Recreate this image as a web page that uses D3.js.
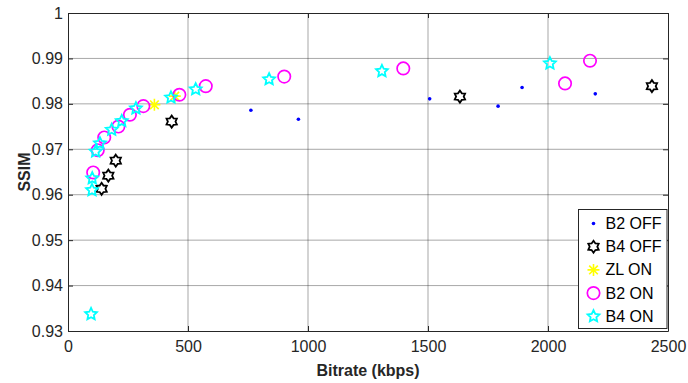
<!DOCTYPE html>
<html>
<head>
<meta charset="utf-8">
<script src="https://cdn.jsdelivr.net/npm/d3@7"></script>
<style>
  body { margin: 0; background: #fff; }
  svg { font-family: "Liberation Sans", Arial, sans-serif; }
</style>
</head>
<body>
<div id="chart"></div>
<script>
// bitrate (kbps) / SSIM pairs
const b2Off = [[762, 0.9786], [960, 0.9766], [1507, 0.9811], [1792, 0.9795], [1892, 0.9836], [2197, 0.9822]];
const b4Off = [[140, 0.9613], [168, 0.9642], [199, 0.9675], [432, 0.9761], [1633, 0.9816], [2433, 0.9839]];
const zlOn = [[360, 0.9798], [445, 0.9817]];
const b2On = [[105, 0.9649], [124, 0.9698], [151, 0.9726], [210, 0.9750], [258, 0.9776], [314, 0.9795],
  [464, 0.9820], [574, 0.9839], [901, 0.9860], [1397, 0.9878], [2071, 0.9845], [2175, 0.9895]];
const b4On = [[96, 0.9337], [100, 0.9610], [101, 0.9636], [115, 0.9695], [133, 0.9713], [182, 0.9743],
  [224, 0.9762], [283, 0.9790], [429, 0.9814], [532, 0.9832], [838, 0.9854], [1308, 0.9872], [2008, 0.9889]];

const xTicks = [0, 500, 1000, 1500, 2000, 2500];
const yTicks = [0.93, 0.94, 0.95, 0.96, 0.97, 0.98, 0.99, 1];

const width = 688, height = 383;
const margin = { top: 13, right: 20, bottom: 52, left: 68 };
const innerW = width - margin.left - margin.right;
const innerH = height - margin.top - margin.bottom;

const svg = d3.select('#chart').append('svg')
  .attr('width', width)
  .attr('height', height);

const g = svg.append('g').attr('transform', `translate(${margin.left}, ${margin.top})`);

const x = d3.scaleLinear().domain([0, 2500]).range([0, innerW]);
const y = d3.scaleLinear().domain([0.93, 1]).range([innerH, 0]);

// grid
g.append('g').selectAll('line').data(xTicks.slice(1, -1)).enter().append('line')
  .attr('x1', d => x(d)).attr('x2', d => x(d)).attr('y1', 0).attr('y2', innerH)
  .attr('stroke', '#262626').attr('stroke-opacity', 0.4).attr('stroke-width', 1);
g.append('g').selectAll('line').data(yTicks.slice(1, -1)).enter().append('line')
  .attr('y1', d => y(d)).attr('y2', d => y(d)).attr('x1', 0).attr('x2', innerW)
  .attr('stroke', '#262626').attr('stroke-opacity', 0.4).attr('stroke-width', 1);

// axes (ticks inward, box on)
const axisColor = '#262626';
function styleAxis(sel) {
  sel.selectAll('path').attr('stroke', axisColor);
  sel.selectAll('line').attr('stroke', axisColor);
  sel.selectAll('text').attr('fill', '#262626').style('font-size', '16px');
}
g.append('g').attr('transform', `translate(0, ${innerH})`)
  .call(d3.axisBottom(x).tickValues(xTicks).tickFormat(d3.format('d')).tickSize(-5).tickSizeOuter(0).tickPadding(10))
  .call(styleAxis);
g.append('g')
  .call(d3.axisLeft(y).tickValues(yTicks).tickFormat(d => d === 1 ? '1' : d3.format('.2f')(d)).tickSize(-5).tickSizeOuter(0).tickPadding(5))
  .call(styleAxis);
g.append('g')
  .call(d3.axisTop(x).tickValues(xTicks).tickSize(-5).tickSizeOuter(0).tickFormat(''))
  .call(styleAxis);
g.append('g').attr('transform', `translate(${innerW}, 0)`)
  .call(d3.axisRight(y).tickValues(yTicks).tickSize(-5).tickSizeOuter(0).tickFormat(''))
  .call(styleAxis);

// axis titles
svg.append('text')
  .attr('x', margin.left + innerW / 2).attr('y', 376)
  .attr('text-anchor', 'middle').style('font-size', '16px').style('font-weight', 'bold')
  .attr('fill', '#262626').text('Bitrate (kbps)');
svg.append('text')
  .attr('transform', `translate(30, ${margin.top + innerH / 2}) rotate(-90)`)
  .attr('text-anchor', 'middle').style('font-size', '16px').style('font-weight', 'bold')
  .attr('fill', '#262626').text('SSIM');

// marker shapes
function starPath(n, outer, inner) {
  const pts = [];
  for (let i = 0; i < 2 * n; i++) {
    const r = i % 2 === 0 ? outer : inner;
    const a = Math.PI * i / n - Math.PI / 2;
    pts.push([r * Math.cos(a), r * Math.sin(a)]);
  }
  return 'M' + pts.map(p => p.join(',')).join('L') + 'Z';
}
const hexagram = starPath(6, 6, 3.8);
const pentagram = starPath(5, 6.2, 3);
const asterisk = 'M-6,0L6,0M0,-6L0,6M-4.3,-4.3L4.3,4.3M-4.3,4.3L4.3,-4.3';

const series = [
  { name: 'B2 OFF', data: b2Off, draw: s => s.append('circle').attr('r', 1.8).attr('fill', '#0000ff') },
  { name: 'B4 OFF', data: b4Off, draw: s => s.append('path').attr('d', hexagram).attr('fill', 'none').attr('stroke', '#000').attr('stroke-width', 1.8) },
  { name: 'ZL ON', data: zlOn, draw: s => s.append('path').attr('d', asterisk).attr('fill', 'none').attr('stroke', '#ffff00').attr('stroke-width', 1.6) },
  { name: 'B2 ON', data: b2On, draw: s => s.append('circle').attr('r', 6.2).attr('fill', 'none').attr('stroke', '#ff00ff').attr('stroke-width', 1.7) },
  { name: 'B4 ON', data: b4On, draw: s => s.append('path').attr('d', pentagram).attr('fill', 'none').attr('stroke', '#00ffff').attr('stroke-width', 1.8) }
];

series.forEach(sr => {
  const pts = g.append('g').selectAll('g').data(sr.data).enter().append('g')
    .attr('transform', d => `translate(${x(d[0])}, ${y(d[1])})`);
  sr.draw(pts);
});

// legend
const legend = svg.append('g').attr('transform', `translate(578.5, 209.5)`);
legend.append('rect').attr('width', 88.5).attr('height', 119)
  .attr('fill', '#fff').attr('stroke', '#262626').attr('stroke-width', 1);
series.forEach((sr, i) => {
  const row = legend.append('g').attr('transform', `translate(15, ${14 + i * 23.2})`);
  sr.draw(row);
  row.append('text').attr('x', 12).attr('y', 5.5).style('font-size', '16px').attr('fill', '#000').text(sr.name);
});
</script>
</body>
</html>
